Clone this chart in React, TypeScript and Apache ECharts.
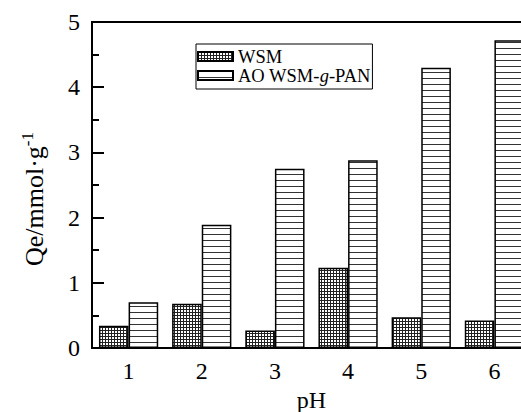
import React, { useEffect, useRef } from "react";
import * as echarts from "echarts";

const categories = ["1", "2", "3", "4", "5", "6"];
const wsmValues = [0.34, 0.68, 0.27, 1.23, 0.47, 0.42];
const aoValues = [0.7, 1.89, 2.75, 2.88, 4.3, 4.72];
const seriesNames = ["WSM", "AO WSM-g-PAN"];

const FONT = "'Liberation Serif', 'Times New Roman', serif";

function makeTile(w: number, h: number, draw: (ctx: CanvasRenderingContext2D) => void) {
  const c = document.createElement("canvas");
  c.width = w;
  c.height = h;
  const ctx = c.getContext("2d")!;
  ctx.fillStyle = "#ffffff";
  ctx.fillRect(0, 0, w, h);
  draw(ctx);
  return c;
}

export default function App() {
  const ref = useRef<HTMLDivElement>(null);
  useEffect(() => {
    if (!ref.current) return;
    const chart = echarts.init(ref.current, undefined, { renderer: "svg" });
    const gridTile = makeTile(3, 3, (ctx) => {
      ctx.fillStyle = "#222";
      ctx.fillRect(0, 0, 3, 1);
      ctx.fillRect(0, 0, 1, 3);
    });
    const lineTile = makeTile(6, 6, (ctx) => {
      ctx.fillStyle = "#333";
      ctx.fillRect(0, 0, 6, 1);
    });
    const gridPattern: any = { image: gridTile, repeat: "repeat", imageWidth: 3, imageHeight: 3 };
    const linePattern: any = { image: lineTile, repeat: "repeat", imageWidth: 6, imageHeight: 6 };

    chart.setOption({
      animation: false,
      backgroundColor: "#ffffff",
      textStyle: { fontFamily: FONT, color: "#000" },
      grid: {
        left: 92,
        top: 22,
        bottom: 64,
        width: 439,
        outerBoundsMode: "none",
        containLabel: false,
        show: true,
        borderColor: "#000",
        borderWidth: 2,
        backgroundColor: "transparent",
      },
      graphic: [
        {
          type: "text",
          x: 33,
          y: 199,
          rotation: Math.PI / 2,
          style: {
            text: "{a|Qe/mmol·g}{s|-1}",
            align: "center",
            verticalAlign: "middle",
            fill: "#000",
            font: "26px " + FONT,
            rich: {
              a: { fontFamily: FONT, fontSize: 26, lineHeight: 28, verticalAlign: "bottom", fill: "#000" },
              s: { fontFamily: FONT, fontSize: 17, lineHeight: 28, verticalAlign: "top", fill: "#000" },
            },
          },
        },
      ],
      legend: {
        left: 196,
        top: 44,
        orient: "vertical",
        itemWidth: 35,
        itemHeight: 9,
        itemGap: 0,
        padding: [3, 2, 4, 1],
        borderColor: "#000",
        borderWidth: 1,
        icon: "rect",
        data: seriesNames,
        formatter: (n: string) =>
          n === "AO WSM-g-PAN" ? "{n|AO WSM-}{i|g}{n|-PAN}" : "{n|" + n + "}",
        textStyle: {
          fontFamily: FONT,
          fontSize: 18.5,
          lineHeight: 16,
          color: "#000",
          rich: {
            n: { fontFamily: FONT, fontSize: 18.5, lineHeight: 16, color: "#000" },
            i: { fontFamily: FONT, fontSize: 18.5, lineHeight: 16, fontStyle: "italic", color: "#000" },
          },
        },
      },
      xAxis: {
        type: "category",
        data: categories,
        name: "pH",
        nameLocation: "middle",
        nameGap: 38,
        nameTextStyle: { fontFamily: FONT, fontSize: 24, color: "#000" },
        axisLine: { lineStyle: { color: "#000", width: 2 } },
        axisTick: { inside: true, length: 7, lineStyle: { color: "#000", width: 2 } },
        axisLabel: { fontFamily: FONT, fontSize: 24, color: "#000", margin: 11 },
      },
      yAxis: {
        type: "value",
        min: 0,
        max: 5,
        interval: 1,
        axisLine: { show: true, lineStyle: { color: "#000", width: 2 } },
        axisTick: { show: true, inside: true, length: 12, lineStyle: { color: "#000", width: 2 } },
        minorTick: { show: true, splitNumber: 2, length: 7, lineStyle: { color: "#000", width: 2 } },
        splitLine: { show: false },
        axisLabel: { fontFamily: FONT, fontSize: 24, color: "#000", margin: 12 },
      },
      series: [
        {
          name: seriesNames[0],
          type: "bar",
          data: wsmValues,
          barGap: "0%",
          barCategoryGap: "19%",
          itemStyle: { color: gridPattern, borderColor: "#000", borderWidth: 1.5 },
        },
        {
          name: seriesNames[1],
          type: "bar",
          data: aoValues,
          barGap: "0%",
          barCategoryGap: "19%",
          itemStyle: { color: linePattern, borderColor: "#000", borderWidth: 1.5 },
        },
      ],
    });
    return () => chart.dispose();
  }, []);
  return (
    <div style={{ width: 521, height: 412, position: "absolute", left: 0, top: 0, overflow: "hidden" }}>
      <div ref={ref} style={{ width: 545, height: 412 }} />
    </div>
  );
}
